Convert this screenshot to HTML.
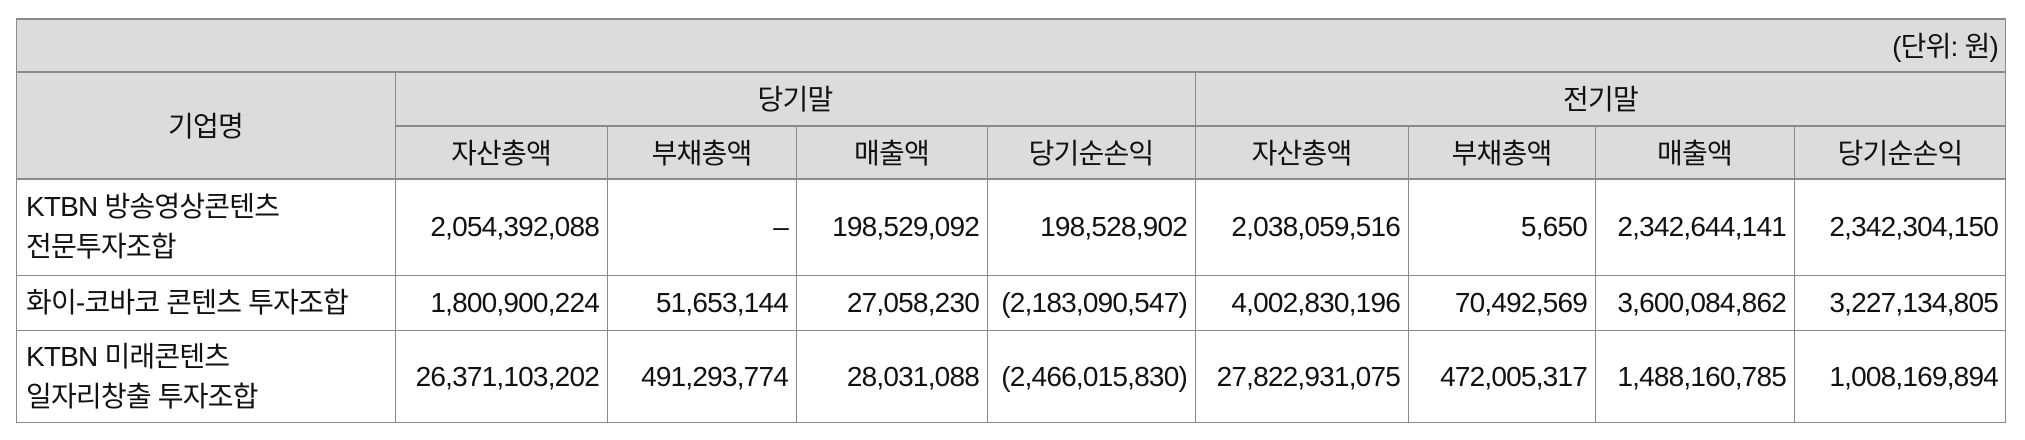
<!DOCTYPE html>
<html><head><meta charset="utf-8"><style>
html,body{margin:0;padding:0;background:#fff;width:2025px;height:440px;overflow:hidden}
.c{position:absolute;box-sizing:border-box;font-family:"Liberation Sans","Noto Sans CJK KR",sans-serif;font-size:28px;color:#111;display:flex;align-items:center;white-space:nowrap;letter-spacing:-0.8px}
.h{background:#dcdcdc;justify-content:center}
.n{justify-content:flex-end;padding-right:8px}
.l{padding-left:10px;line-height:40px}
.line{position:absolute;background:#8a8a8a}
</style></head><body>
<div id="t"></div>
<script>
const colX=[16,395,607,796,987,1195,1408,1595,1794,2006];
const rowY=[18,71,125,178,275,330,423];
const subHeads=["자산총액","부채총액","매출액","당기순손익"];
const companies=["KTBN 방송영상콘텐츠<br>전문투자조합","화이-코바코 콘텐츠 투자조합","KTBN 미래콘텐츠<br>일자리창출 투자조합"];
const values=[
["2,054,392,088","–","198,529,092","198,528,902","2,038,059,516","5,650","2,342,644,141","2,342,304,150"],
["1,800,900,224","51,653,144","27,058,230","(2,183,090,547)","4,002,830,196","70,492,569","3,600,084,862","3,227,134,805"],
["26,371,103,202","491,293,774","28,031,088","(2,466,015,830)","27,822,931,075","472,005,317","1,488,160,785","1,008,169,894"]];
const t=document.getElementById('t');
function cell(x1,y1,x2,y2,cls,html,name){
 const d=document.createElement('div');
 d.className='c '+cls;
 d.style.left=x1+'px';d.style.top=y1+'px';d.style.width=(x2-x1)+'px';d.style.height=(y2-y1)+'px';
 d.innerHTML=html;
 
 
 t.appendChild(d);return d;
}
function line(x,y,w,h,name){
 const d=document.createElement('div');d.className='line';
 d.style.left=x+'px';d.style.top=y+'px';d.style.width=w+'px';d.style.height=h+'px';
 
 
 t.appendChild(d);
}
const u=cell(colX[0],rowY[0],colX[9],rowY[1],'h','(단위: 원)','unit-label');
u.style.justifyContent='flex-end';u.style.paddingRight='8px';
cell(colX[0],rowY[1],colX[1],rowY[3],'h','기업명','company-header');
cell(colX[1],rowY[1],colX[5],rowY[2],'h','당기말','current-period-header');
cell(colX[5],rowY[1],colX[9],rowY[2],'h','전기말','prior-period-header');
for(let i=0;i<8;i++) cell(colX[i+1],rowY[2],colX[i+2],rowY[3],'h',subHeads[i%4],'subheader');
for(let r=0;r<3;r++){
 cell(colX[0],rowY[3+r],colX[1],rowY[4+r],'l',companies[r],'company-name');
 for(let i=0;i<8;i++) cell(colX[i+1],rowY[3+r],colX[i+2],rowY[4+r],'n',values[r][i],'value-cell');
}
line(colX[0],rowY[0],colX[9]-colX[0],2,'border');
line(colX[0],rowY[0],1,rowY[6]-rowY[0],'border');
line(colX[9]-1,rowY[0],1,rowY[6]-rowY[0],'border');
line(colX[0],rowY[1],colX[9]-colX[0],2,'border');
line(colX[1],rowY[2],colX[9]-colX[1],2,'border');
for(let k=3;k<=6;k++) line(colX[0],rowY[k]-(k==6?1:0),colX[9]-colX[0],k==3?2:1,'border');
line(colX[1],rowY[1],1,rowY[6]-rowY[1],'border');
line(colX[5],rowY[1],1,rowY[6]-rowY[1],'border');
for(const i of [2,3,4,6,7,8]) line(colX[i],rowY[2],1,rowY[6]-rowY[2],'border');
</script>
</body></html>
